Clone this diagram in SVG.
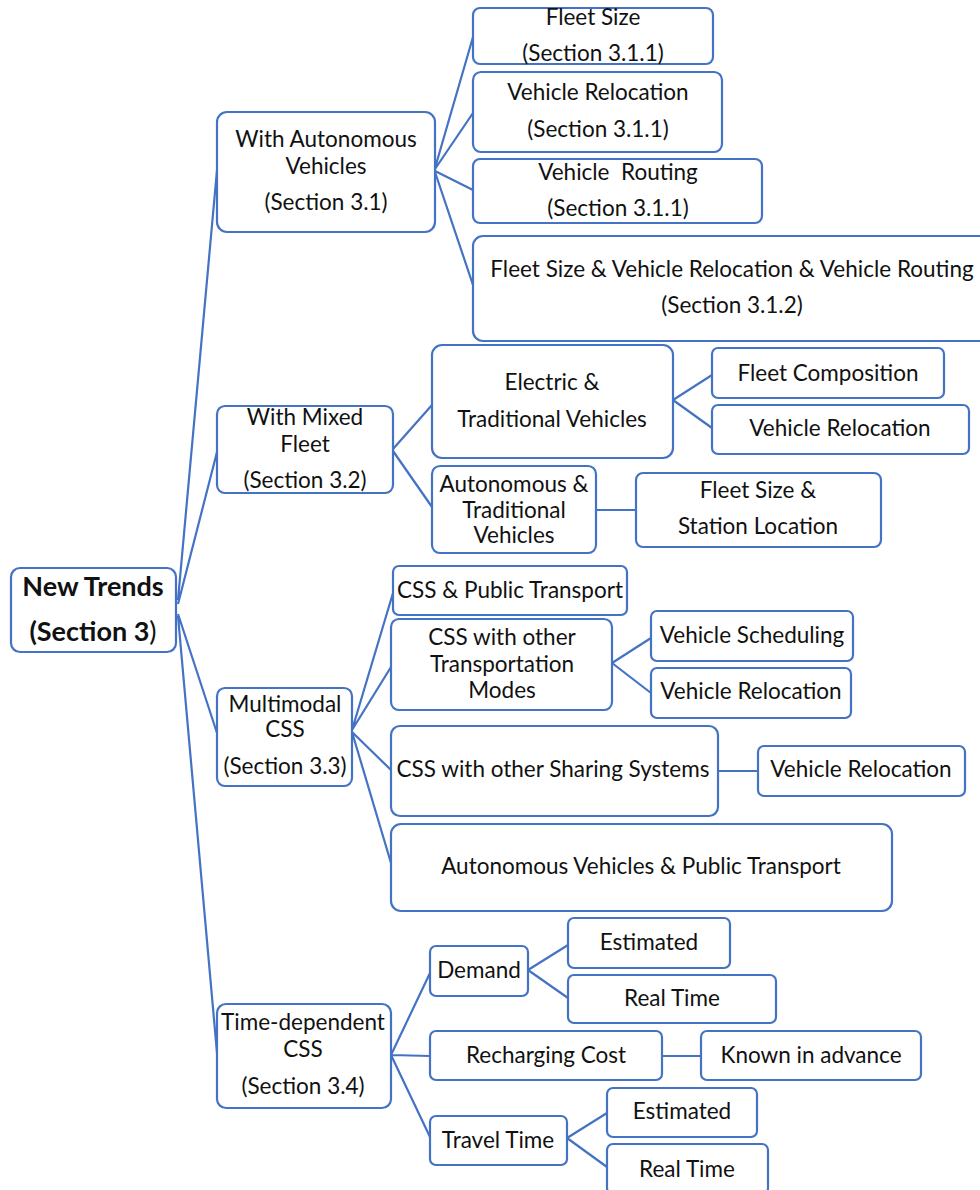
<svg xmlns="http://www.w3.org/2000/svg" width="980" height="1190" viewBox="0 0 980 1190">
<style>
.box{fill:#fff;stroke:#4472C4;stroke-width:2.2}
.t{font-family:Lato,"Liberation Sans",sans-serif;font-size:22.5px;fill:#111;text-anchor:middle;white-space:pre}
.b{font-weight:bold;font-size:27px}
.c{fill:none;stroke:#4472C4;stroke-width:2.2}
</style>
<rect width="980" height="1190" fill="#fff"/>
<g id="connectors" class="c">
<path d="M178,600 L217,170 M178,604 L217,452 M178,614 L217,733 M178,616 L217,1053"/>
<path d="M435,168 L473,37 M435,169 L473,113 M435,171 L473,190 M435,172 L473,285"/>
<path d="M393,449 L432,405 M393,451 L432,507"/>
<path d="M673,400 L712,375 M673,400 L712,428"/>
<path d="M596,510 L636,510"/>
<path d="M352,730 L393,593 M352,730 L391,667 M352,732 L391,770 M352,732 L391,863"/>
<path d="M612,663 L651,638 M612,663 L651,693"/>
<path d="M718,771 L758,771"/>
<path d="M391,1055 L430,973 M391,1055 L430,1056 M391,1055 L430,1137"/>
<path d="M528,970 L568,945 M528,970 L568,998"/>
<path d="M662,1056 L701,1056"/>
<path d="M567,1138 L607,1113 M567,1138 L607,1167"/>
</g>
<g id="n_root"><rect class="box" x="11" y="568" width="165" height="84" rx="9"/><text class="t b" x="93" y="596">New Trends</text><text class="t b" x="93" y="641">(Section 3<tspan font-weight="normal">)</tspan></text></g>
<g id="n_auto"><rect class="box" x="217" y="112" width="218" height="120" rx="10"/><text class="t" x="326" y="147">With Autonomous</text><text class="t" x="326" y="174">Vehicles</text><text class="t" x="326" y="210">(Section 3.1)</text></g>
<g id="n_fleetsize"><rect class="box" x="473" y="8" width="240" height="56" rx="7"/><text class="t" x="593" y="25">Fleet Size</text><text class="t" x="593" y="61">(Section 3.1.1)</text></g>
<g id="n_reloc1"><rect class="box" x="473" y="72" width="249" height="80" rx="8"/><text class="t" x="598" y="100">Vehicle Relocation</text><text class="t" x="598" y="137">(Section 3.1.1)</text></g>
<g id="n_routing"><rect class="box" x="473" y="159" width="289" height="64" rx="7"/><text class="t" x="618" y="180">Vehicle  Routing</text><text class="t" x="618" y="216">(Section 3.1.1)</text></g>
<g id="n_combined"><rect class="box" x="473" y="236" width="520" height="105" rx="10"/><text class="t" x="732" y="277">Fleet Size &amp; Vehicle Relocation &amp; Vehicle Routing</text><text class="t" x="732" y="313">(Section 3.1.2)</text></g>
<g id="n_mixed"><rect class="box" x="217" y="406" width="176" height="87" rx="8"/><text class="t" x="305" y="425">With Mixed</text><text class="t" x="305" y="452">Fleet</text><text class="t" x="305" y="488">(Section 3.2)</text></g>
<g id="n_elec"><rect class="box" x="432" y="345" width="241" height="113" rx="10"/><text class="t" x="552" y="390">Electric &amp;</text><text class="t" x="552" y="427">Traditional Vehicles</text></g>
<g id="n_fleetcomp"><rect class="box" x="712" y="348" width="232" height="50" rx="6"/><text class="t" x="828" y="381">Fleet Composition</text></g>
<g id="n_reloc2"><rect class="box" x="712" y="405" width="257" height="49" rx="6"/><text class="t" x="840" y="436">Vehicle Relocation</text></g>
<g id="n_autotrad"><rect class="box" x="432" y="466" width="164" height="87" rx="8"/><text class="t" x="514" y="492">Autonomous &amp;</text><text class="t" x="514" y="518">Traditional</text><text class="t" x="514" y="543">Vehicles</text></g>
<g id="n_fsstation"><rect class="box" x="636" y="473" width="245" height="74" rx="7"/><text class="t" x="758" y="498">Fleet Size &amp;</text><text class="t" x="758" y="534">Station Location</text></g>
<g id="n_multi"><rect class="box" x="217" y="688" width="135" height="98" rx="8"/><text class="t" x="285" y="712">Multimodal</text><text class="t" x="285" y="737">CSS</text><text class="t" x="285" y="774">(Section 3.3)</text></g>
<g id="n_csspt"><rect class="box" x="393" y="566" width="234" height="49" rx="6"/><text class="t" x="510" y="598">CSS &amp; Public Transport</text></g>
<g id="n_cssmodes"><rect class="box" x="391" y="619" width="221" height="91" rx="8"/><text class="t" x="502" y="645">CSS with other</text><text class="t" x="502" y="672">Transportation</text><text class="t" x="502" y="698">Modes</text></g>
<g id="n_sched"><rect class="box" x="651" y="611" width="202" height="50" rx="6"/><text class="t" x="752" y="643">Vehicle Scheduling</text></g>
<g id="n_reloc3"><rect class="box" x="651" y="668" width="200" height="50" rx="6"/><text class="t" x="751" y="699">Vehicle Relocation</text></g>
<g id="n_csssharing"><rect class="box" x="391" y="726" width="327" height="90" rx="9"/><text class="t" x="553" y="777">CSS with other Sharing Systems</text></g>
<g id="n_reloc4"><rect class="box" x="758" y="746" width="207" height="50" rx="6"/><text class="t" x="861" y="777">Vehicle Relocation</text></g>
<g id="n_avpt"><rect class="box" x="391" y="824" width="501" height="87" rx="10"/><text class="t" x="641" y="874">Autonomous Vehicles &amp; Public Transport</text></g>
<g id="n_time"><rect class="box" x="217" y="1004" width="174" height="104" rx="9"/><text class="t" x="303" y="1030">Time-dependent</text><text class="t" x="303" y="1057">CSS</text><text class="t" x="303" y="1094">(Section 3.4)</text></g>
<g id="n_demand"><rect class="box" x="430" y="946" width="98" height="50" rx="6"/><text class="t" x="479" y="978">Demand</text></g>
<g id="n_est1"><rect class="box" x="568" y="918" width="162" height="50" rx="6"/><text class="t" x="649" y="950">Estimated</text></g>
<g id="n_rt1"><rect class="box" x="568" y="975" width="208" height="48" rx="6"/><text class="t" x="672" y="1006">Real Time</text></g>
<g id="n_recharge"><rect class="box" x="430" y="1031" width="232" height="49" rx="6"/><text class="t" x="546" y="1063">Recharging Cost</text></g>
<g id="n_known"><rect class="box" x="701" y="1031" width="220" height="49" rx="6"/><text class="t" x="811" y="1063">Known in advance</text></g>
<g id="n_travel"><rect class="box" x="430" y="1116" width="137" height="49" rx="6"/><text class="t" x="498" y="1148">Travel Time</text></g>
<g id="n_est2"><rect class="box" x="607" y="1088" width="150" height="49" rx="6"/><text class="t" x="682" y="1119">Estimated</text></g>
<g id="n_rt2"><rect class="box" x="607" y="1144" width="161" height="50" rx="6"/><text class="t" x="687" y="1177">Real Time</text></g>
</svg>
